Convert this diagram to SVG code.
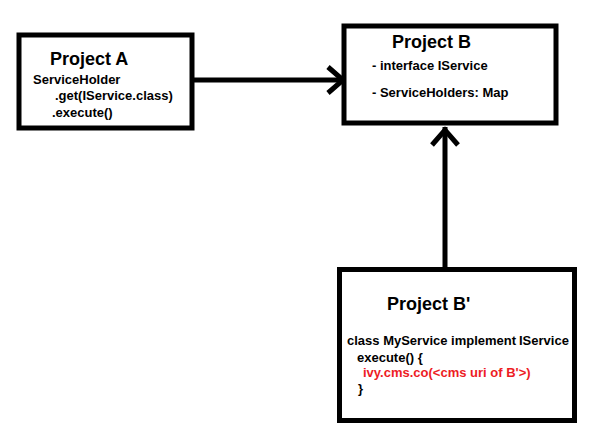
<svg xmlns="http://www.w3.org/2000/svg" width="590" height="441" viewBox="0 0 590 441">
<style>
.box{fill:#fff;stroke:#000;stroke-width:5}
.t{font-family:"Liberation Sans",Arial,sans-serif;font-weight:bold;fill:#000}
.h{font-size:18px}
.s{font-size:13px}
.red{fill:#ed1c24}
.c{fill:none;stroke:#000;stroke-width:5;stroke-linecap:butt;stroke-linejoin:miter}
</style>
<rect width="590" height="441" fill="#fff"/>
<g id="connectors">
<path class="c" d="M193 80 H344"/>
<path class="c" d="M328 67 L343 80 L328 93"/>
<path class="c" d="M445 268 V127"/>
<path class="c" d="M432 145 L445 130 L458 145"/>
</g>
<g id="projectA">
<rect class="box" x="19" y="35" width="173" height="93"/>
<text class="t h" x="50" y="65">Project A</text>
<text class="t s" x="33" y="84">ServiceHolder</text>
<text class="t s" x="55" y="100">.get(IService.class)</text>
<text class="t s" x="52" y="117">.execute()</text>
</g>
<g id="projectB">
<rect class="box" x="344" y="26" width="212" height="97"/>
<text class="t h" x="392" y="48">Project B</text>
<text class="t s" x="372" y="70">- interface IService</text>
<text class="t s" x="372" y="97">- ServiceHolders: Map</text>
</g>
<g id="projectBprime">
<rect class="box" x="339.5" y="269.5" width="235" height="151"/>
<text class="t h" x="387" y="310">Project B'</text>
<text class="t s" x="347" y="345">class MyService implement</text>
<text class="t s" x="519" y="345">IService</text>
<text class="t s" x="357" y="362">execute() {</text>
<text class="t s red" x="363" y="377">ivy.cms.co(&lt;cms uri of B'&gt;)</text>
<text class="t s" x="358" y="393">}</text>
</g>
</svg>
